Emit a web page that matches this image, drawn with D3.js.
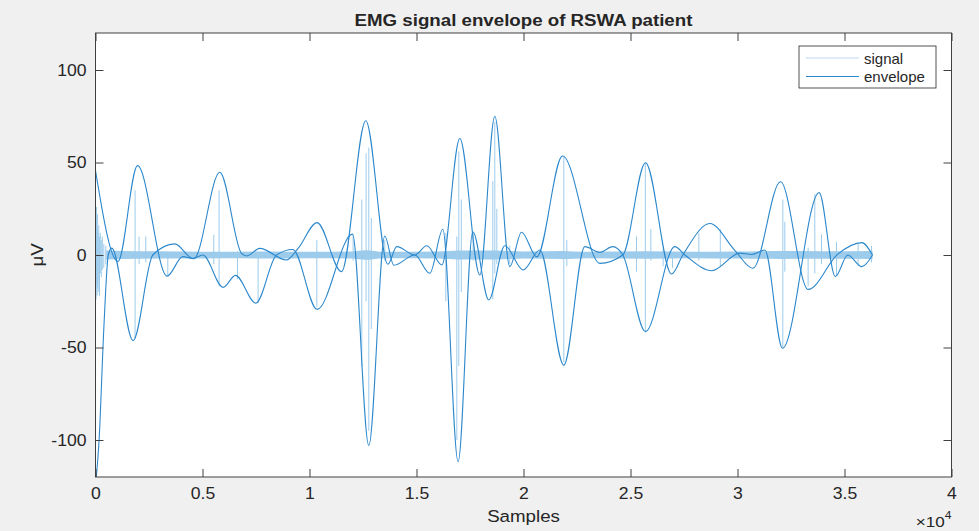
<!DOCTYPE html>
<html>
<head>
<meta charset="utf-8">
<script src="https://cdn.jsdelivr.net/npm/d3@7"></script>
<style>
  body { margin: 0; background: #f0f0f0; }
  svg { display: block; }
  text { font-family: "Liberation Sans", Arial, Helvetica, sans-serif; fill: #262626; }
</style>
</head>
<body>
<div class="graph"></div>
<script>
// ---- data (x in samples, y in µV) ----
const xTicks = [0, 5000, 10000, 15000, 20000, 25000, 30000, 35000, 40000];
const xTickLabels = ["0", "0.5", "1", "1.5", "2", "2.5", "3", "3.5", "4"];
const yTicks = [-100, -50, 0, 50, 100];
const yTickLabels = ["-100", "-50", "0", "50", "100"];

// upper envelope (extrema + a few flank points)
const upperX = [0, 1050, 1963, 3346, 4080, 4594, 5809, 6823, 7070, 7678, 8925, 9467, 10355, 11496, 12631,
  13659, 14080, 14921, 15482, 16183, 17024, 17958, 18659, 19360, 19907, 20622, 21823, 23566, 24641,
  25702, 26917, 27445, 28707, 29875, 30717, 32011, 33300, 34688, 35809, 36310];
const upperY = [45.6, -3.5, 48.3, -11.4, -0.9, -2, 44.7, 0.9, -0.5, 3.6, -2.7, 3.6, 17.5, -9, 72.6,
  -5, 4.5, 0, 5, -5.4, 63, -10.8, 75, -6.3, 12.3, -1, 53.5, -4.5, 0,
  49.9, -10.3, 0, 17, 2.5, -7.2, 39.6, -18.6, 0.5, 6.7, 0];

// lower envelope
const lowerX = [0, 168, 388, 598, 762, 1757, 2678, 3706, 4547, 5014, 5963, 6542, 7491, 8458, 9220, 10355,
  12010, 12771, 13519, 13940, 14921, 15622, 16230, 16944, 17631, 18379, 19126, 19982, 20762, 21884,
  22865, 23566, 24174, 24641, 25702, 27071, 27539, 28800, 30109, 30670, 31278, 32104, 33814, 34571,
  35155, 35809, 36310];
const lowerY = [-125, -100, -40, 0, 3.7, -46.3, 0, 6, -1.8, 0, -17.5, -11, -26, 0, 3, -29.4,
  11.3, -103, 10.3, -5.5, 0, -9.9, 13.9, -111.7, 12.6, -24.3, 5, -8.1, 2.7, -59.5,
  4.5, 1.5, 4.5, 0, -41.4, 4.5, 0, -8.5, 1, 0.3, 2.7, -50.4, 33.7, -11.7,
  0, -6.3, 0];

// baseline noise band of the raw signal (half width, µV)
const bandX = [500, 2000, 4000, 6000, 8000, 10000, 12000, 12600, 13500, 16000, 17000, 18600, 20000,
  21800, 23000, 25700, 28000, 30000, 32000, 34000, 36310];
const bandHalf = [2.4, 2.0, 1.9, 1.7, 1.9, 1.7, 1.9, 2.6, 1.7, 1.9, 2.4, 2.4, 1.9,
  2.2, 1.7, 2.0, 1.7, 1.9, 2.1, 2.0, 2.2];

// raw signal spikes: position, max, min
const spikeX = [5, 28, 51, 75, 98, 126, 154, 187, 224, 271, 318, 388, 481,
  1850, 2037, 2350, 3379, 5528, 5776, 6636, 7598, 10342, 12038, 12444, 12645, 12771, 12888,
  13519, 16370, 16884, 16977, 17094, 17645, 18566, 18659, 18753, 19360, 21884, 22024,
  25281, 25692, 25950, 26524, 26963, 28193, 29197, 32118, 32211, 33300, 33613, 33926,
  34627, 35636, 36263];
const spikeTop = [24, 18, 26, 14, 22, 12, 16, 10, 12, 8, 10, 6, 5,
  35, 10, 10, 1, 11, 35, 2, 1, 8, 11, 30, 55, 58, 20,
  8, 12, 10, 56, 30, 12, 40, 72, 25, 5, 53, 8,
  10, 50, 14, 3, 1, 12, 14, 30, 18, 4, 33, 11,
  7, 6, 5];
const spikeBottom = [-20, -24, -16, -22, -18, -20, -14, -22, -10, -12, -8, -7, -5,
  -45, -5, -4, -11, -5, -17, -13, -26, -28, -3, -60, -25, -95, -40,
  -3, -25, -100, -60, -20, -3, -24, -10, -5, -5, -58, -6,
  -9, -41, -3, -6, -7, -3, -6, -50, -9, -17, -10, -5,
  -11, -6, -4];

// ---- layout ----
const W = 979, H = 531;
const L = 95.5, R = 951.5, T = 33, B = 477;
const sigColor = "#9ccbec", envColor = "#2c88cc";
const stretch = 1.1;

const svg = d3.select(".graph").append("svg").attr("width", W).attr("height", H);

const x = d3.scaleLinear().domain([0, 40000]).range([L, R]);
const y = d3.scaleLinear().domain([-120, 120]).range([B, T]);

svg.append("rect").attr("x", L).attr("y", T).attr("width", R - L).attr("height", B - T).attr("fill", "#fff");

svg.append("clipPath").attr("id", "clip")
  .append("rect").attr("x", L).attr("y", T).attr("width", R - L).attr("height", B - T);

const plot = svg.append("g").attr("clip-path", "url(#clip)");

// signal: noise band + spikes
const band = bandX.map((d, i) => ({ x: d, h: bandHalf[i] }));
plot.append("path")
  .datum(band)
  .attr("fill", sigColor)
  .attr("d", d3.area().x(d => x(d.x)).y0(d => y(-d.h)).y1(d => y(d.h)).curve(d3.curveMonotoneX));

plot.selectAll(".spike")
  .data(spikeX.map((d, i) => ({ x: d, top: spikeTop[i], bot: spikeBottom[i] })))
  .enter().append("line")
  .attr("class", "spike")
  .attr("x1", d => x(d.x)).attr("x2", d => x(d.x))
  .attr("y1", d => y(d.top)).attr("y2", d => y(d.bot))
  .attr("stroke", sigColor).attr("stroke-width", 1);

// envelopes
const envLine = d3.line().x(d => x(d[0])).y(d => y(d[1])).curve(d3.curveMonotoneX);
[[upperX, upperY], [lowerX, lowerY]].forEach(([xs, ys]) => {
  plot.append("path")
    .datum(xs.map((d, i) => [d, ys[i]]))
    .attr("fill", "none")
    .attr("stroke", envColor)
    .attr("stroke-width", 1.1)
    .attr("d", envLine);
});

// axes with inward ticks on all four sides
function stretchText(sel) {
  sel.each(function () {
    const t = d3.select(this);
    const tx = +t.attr("x") || 0;
    t.attr("transform", `translate(${tx},0) scale(${stretch},1) translate(${-tx},0)`);
  });
}

const gx = svg.append("g").attr("transform", `translate(0,${B})`)
  .call(d3.axisBottom(x).tickValues(xTicks).tickFormat((d, i) => xTickLabels[i]).tickSizeInner(-8).tickSizeOuter(0).tickPadding(11));
const gy = svg.append("g").attr("transform", `translate(${L},0)`)
  .call(d3.axisLeft(y).tickValues(yTicks).tickFormat((d, i) => yTickLabels[i]).tickSizeInner(-8).tickSizeOuter(0).tickPadding(9));
const gt = svg.append("g").attr("transform", `translate(0,${T})`)
  .call(d3.axisTop(x).tickValues(xTicks).tickFormat("").tickSizeInner(-8).tickSizeOuter(0));
const gr = svg.append("g").attr("transform", `translate(${R},0)`)
  .call(d3.axisRight(y).tickValues(yTicks).tickFormat("").tickSizeInner(-8).tickSizeOuter(0));

[gx, gy, gt, gr].forEach(g => {
  g.select(".domain").remove();
  g.selectAll(".tick line").attr("stroke", "#404040");
  g.selectAll("text").attr("font-size", 16).attr("fill", "#262626")
    .style("font-family", '"Liberation Sans", Arial, sans-serif');
});
gx.selectAll("text").call(stretchText);
gy.selectAll("text").call(stretchText);

svg.append("rect").attr("x", L).attr("y", T).attr("width", R - L).attr("height", B - T)
  .attr("fill", "none").attr("stroke", "#404040").attr("stroke-width", 1);

// texts
function label(txt, px, py, size, opts = {}) {
  const g = svg.append("g").attr("transform", `translate(${px},${py}) ${opts.rotate ? "rotate(-90)" : ""} scale(${stretch},1)`);
  return g.append("text").attr("text-anchor", opts.anchor || "middle").attr("font-size", size)
    .attr("font-weight", opts.bold ? "bold" : null).text(txt);
}

label("EMG signal envelope of RSWA patient", (L + R) / 2, 26, 17, { bold: true });
label("Samples", (L + R) / 2, 522, 17);
label("μV", 43, 255, 17, { rotate: true });

const expo = svg.append("g").attr("transform", `translate(${R},527) scale(${stretch},1)`)
  .append("text").attr("text-anchor", "end").attr("font-size", 15.5).attr("fill", "#555");
expo.append("tspan").text("×10");
expo.append("tspan").attr("dy", -8).attr("font-size", 11).text("4");

// legend
const lg = svg.append("g");
lg.append("rect").attr("x", 799).attr("y", 46).attr("width", 137).attr("height", 42)
  .attr("fill", "#fff").attr("stroke", "#262626").attr("stroke-width", 0.8);
[["signal", "#bcdaf1", 58], ["envelope", envColor, 76.5]].forEach(([name, col, ly]) => {
  lg.append("line").attr("x1", 806).attr("x2", 859).attr("y1", ly).attr("y2", ly)
    .attr("stroke", col).attr("stroke-width", 1.2);
  lg.append("text").attr("x", 864).attr("y", ly + 5.5).attr("font-size", 15).text(name);
});
</script>
</body>
</html>
